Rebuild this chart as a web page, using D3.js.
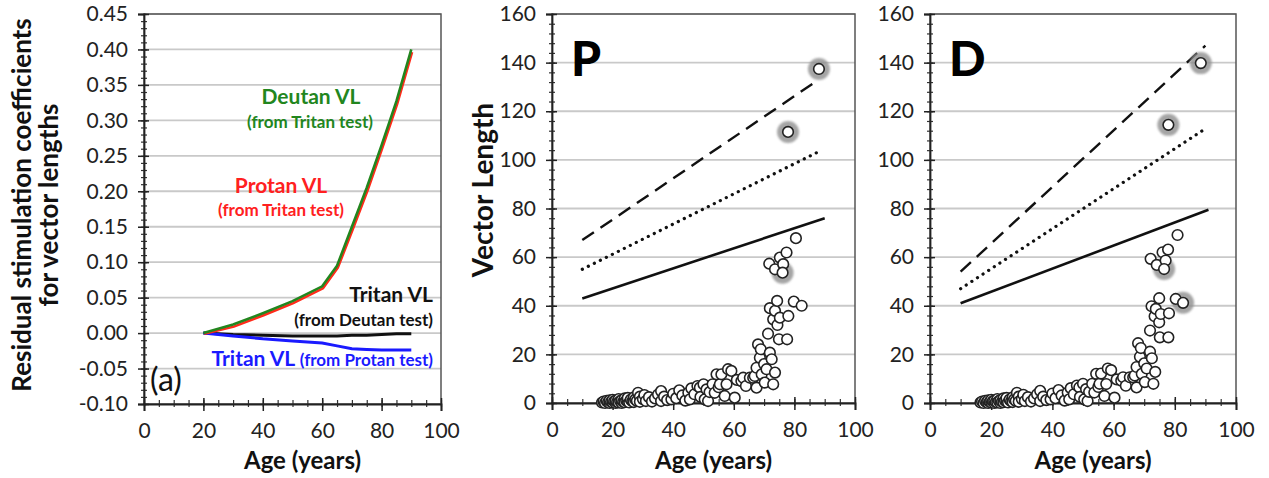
<!DOCTYPE html>
<html>
<head>
<meta charset="utf-8">
<script src="https://cdn.jsdelivr.net/npm/d3@7"></script>
<style>
  body { margin: 0; background: #fff; }
  svg { font-family: Lato, "Open Sans", sans-serif; }
</style>
</head>
<body>
<div id="wrapper"></div>
<script>
// panel (a): residual stimulation coefficients
const ageA = [20, 30, 40, 50, 60, 65, 70, 75, 80, 85, 90];
const deutanVL = [0, 0.012, 0.028, 0.045, 0.066, 0.095, 0.15, 0.205, 0.265, 0.327, 0.40];
const protanVL = [0, 0.010, 0.026, 0.043, 0.064, 0.093, 0.147, 0.202, 0.262, 0.324, 0.397];
const tritanFromDeutan = [0, -0.002, -0.003, -0.004, -0.004, -0.004, -0.003, -0.003, -0.002, -0.001, -0.001];
const tritanFromProtan = [0, -0.004, -0.008, -0.011, -0.014, -0.018, -0.022, -0.023, -0.024, -0.024, -0.024];
const yTicksA = [-0.10, -0.05, 0, 0.05, 0.10, 0.15, 0.20, 0.25, 0.30, 0.35, 0.40, 0.45];
const xTicks = [0, 20, 40, 60, 80, 100];
const yTicksVL = [0, 20, 40, 60, 80, 100, 120, 140, 160];

// panel P
const pAges = [16.5,17,17.5,18,18.5,19,19,19.5,20,20,20.5,21,21,21.5,22,22,22.5,23,23,23.5,24,24,24.5,25,25,25.5,26,26.5,27,27,27.5,28,28.4,29,29,30,30.5,31,32,33,34,
  35,36,36,37,38,39.4,40,41,42,43,44,45,45.5,46,47,48,48.8,49,50,50.4,51,51.5,52,53,53.7,54.3,55,55.4,55.9,57,57.6,58.1,59.2,60.3,61,62.5,63.1,64,65.3,66.4,
  66.9,67.5,67.5,68,68.6,68.9,69.2,70,70.2,70.8,71.3,71.9,71.9,72.5,73,73,73.6,73.6,74.3,74.4,74.9,75.2,77.6,78,79.8,82.4,
  71.7,73.6,75.2,77.4,76.3,76.1,80.5,77.9,88.1];
const pVL = [0.2,0.6,0,0.9,0.3,0,1.1,0.5,0.2,1.3,0.7,0,1,0.4,1.6,0.2,0.8,0,1.2,0.5,1.9,0.3,1,0.6,2.1,0.2,1.4,0.7,2.3,0.4,1.5,0.9,4.2,2.6,0.5,1.6,3.3,0.8,2.4,0.6,1.9,
  3.5,4.9,0.8,2.6,1.2,1.5,3.8,2,5.2,3.1,1,4.2,1.5,6,3.6,7,6.3,2.5,7.7,1.5,5.6,0.8,4.5,7.7,4.2,11.8,6.5,7.7,11.8,2.9,7.7,13.9,13.2,2.2,9.5,9,10.4,7,10.4,10.4,
  11.1,14.5,6.3,24.1,18.6,22.1,11.8,16,8.4,13.9,28.5,20.7,39,18,34.4,7.7,12.5,37.9,42,32.1,26.2,35.1,26.2,35.8,41.7,40,
  57.3,55,59.8,61.9,57.1,53.6,67.8,111.5,137.4];
const pHaloAge = [76.1, 77.9, 88.1];
const pHaloVL = [53.6, 111.5, 137.4];
const pDashAge = [10, 88], pDashVL = [67, 133];
const pDotAge = [10, 89], pDotVL = [55, 104];
const pSolidAge = [10, 90], pSolidVL = [43, 76];

// panel D
const dAges = [16.5,17,17.5,18,18.5,19,19,19.5,20,20,20.5,21,21,21.5,22,22,22.5,23,23,23.5,24,24,24.5,25,25,25.5,26,26.5,27,27,27.5,28,28.4,29,29,30,30.5,31,32,33,34,
  35,36,36,37,38,39.4,40,41,42,43,44,45,45.5,46,47,48,48.8,49,50,50.4,51,51.5,52,53,53.7,54.3,55,55.4,55.9,57,57.6,58.1,59.2,60.3,61,62.5,63.1,64,65.3,66.4,
  66.9,67.5,67.5,68,68.6,68.9,69.2,70,70.2,70.8,71.9,71.9,72.4,72.5,73.4,73,73.6,73.8,74.9,74.9,75.1,75.4,77.9,78.1,80.3,82.7,
  72.1,74.1,76,77.8,77,76.5,80.9,77.9,88.5];
const dVL = [0.2,0.6,0,0.9,0.3,0,1.1,0.5,0.2,1.3,0.7,0,1,0.4,1.6,0.2,0.8,0,1.2,0.5,1.9,0.3,1,0.6,2.1,0.2,1.4,0.7,2.3,0.4,1.5,0.9,4.2,2.6,0.5,1.6,3.4,0.8,2.4,0.6,1.9,
  3.6,5,0.8,2.6,1.2,1.5,3.9,2,5.3,3.1,1,4.3,1.5,6.1,3.6,7.2,6.4,2.5,7.9,1.5,5.7,0.8,4.6,7.9,4.3,12,6.6,7.9,12.1,2.9,7.8,14.2,13.5,2.2,9.7,9.2,10.6,7.1,10.6,10.6,
  11.3,14.8,6.4,24.6,19,22.6,12,16.3,8.6,14.2,29.8,21.1,39.8,18.4,35.7,7.9,12.8,38.7,43.1,33.2,27,36.6,27,36.9,42.8,41.2,
  59.3,56.8,62,63.1,58.6,55.1,69.1,114.4,139.8];
const dHaloAge = [76.5, 77.9, 88.5, 82.7];
const dHaloVL = [55.1, 114.4, 139.8, 41.2];
const dDashAge = [10, 90], dDashVL = [54, 147];
const dDotAge = [10, 89], dDotVL = [47, 112];
const dSolidAge = [10, 91], dSolidVL = [41, 79.5];

const width = 1269, height = 478;
const svg = d3.select("#wrapper").append("svg")
  .attr("width", width)
  .attr("height", height);

const defs = svg.append("defs");
defs.append("filter").attr("id", "blur").attr("x", "-50%").attr("y", "-50%").attr("width", "200%").attr("height", "200%")
  .append("feGaussianBlur").attr("stdDeviation", 1.1);

// excel style minus (plain hyphen)
const fmtA = d => d3.format(".2f")(d).replace("\u2212", "-");

function makePanel(cfg) {
  const x = d3.scaleLinear().domain([0, 100]).range([cfg.left, cfg.right]);
  const y = d3.scaleLinear().domain(cfg.yDomain).range([cfg.bottom, cfg.top]);
  const g = svg.append("g");

  // grid
  g.append("g").selectAll("line")
    .data(cfg.yTicks.slice(1))
    .enter().append("line")
    .attr("x1", cfg.left).attr("x2", cfg.right)
    .attr("y1", d => y(d)).attr("y2", d => y(d))
    .attr("stroke", "#c9c9c9").attr("stroke-width", 1.8);

  g.append("rect")
    .attr("x", cfg.left).attr("y", cfg.top)
    .attr("width", cfg.right - cfg.left).attr("height", cfg.bottom - cfg.top)
    .attr("fill", "none").attr("stroke", "#555").attr("stroke-width", 1.5);

  // minor ticks, crossing the axes
  const yMinor = d3.range(cfg.yDomain[0], cfg.yDomain[1] + cfg.yMinor / 2, cfg.yMinor);
  const yMin = g.append("g").attr("transform", `translate(${cfg.left},0)`)
    .call(d3.axisLeft(y).tickValues(yMinor).tickSize(3).tickFormat(""));
  yMin.selectAll(".tick line").attr("x1", 3).attr("stroke", "#333").attr("stroke-width", 1.2);
  yMin.select(".domain").remove();

  const xMinor = d3.range(0, 100.1, 5);
  const xMin = g.append("g").attr("transform", `translate(0,${cfg.bottom})`)
    .call(d3.axisBottom(x).tickValues(xMinor).tickSize(3).tickFormat(""));
  xMin.selectAll(".tick line").attr("y1", -4).attr("stroke", "#333").attr("stroke-width", 1.2);
  xMin.select(".domain").remove();

  // major axes
  const yAx = g.append("g").attr("transform", `translate(${cfg.left},0)`)
    .call(d3.axisLeft(y).tickValues(cfg.yTicks).tickSize(6).tickPadding(10).tickFormat(cfg.yFormat));
  yAx.selectAll(".tick line").attr("x1", 5).attr("stroke", "#222").attr("stroke-width", 1.5);
  yAx.select(".domain").attr("stroke", "#222").attr("stroke-width", 1.8);
  yAx.selectAll("text").attr("font-size", 21).attr("fill", "#222").attr("font-family", "Lato");

  const xAx = g.append("g").attr("transform", `translate(0,${cfg.bottom})`)
    .call(d3.axisBottom(x).tickValues(xTicks).tickSize(7).tickPadding(12));
  xAx.selectAll(".tick line").attr("y1", -6).attr("stroke", "#222").attr("stroke-width", 1.5);
  xAx.select(".domain").attr("stroke", "#222").attr("stroke-width", 1.8);
  xAx.selectAll("text").attr("font-size", 21).attr("fill", "#222").attr("font-family", "Lato");

  g.append("text")
    .attr("x", (cfg.left + cfg.right) / 2 + 10).attr("y", 469)
    .attr("text-anchor", "middle")
    .attr("font-size", 24).attr("font-weight", "bold").attr("fill", "#111")
    .text("Age (years)");

  return { x, y, g };
}

// ---------- panel (a)
const pa = makePanel({ left: 144, right: 441, top: 14, bottom: 404,
  yDomain: [-0.10, 0.45], yTicks: yTicksA, yMinor: 0.01, yFormat: fmtA });

const lineA = vals => d3.line().x((d, i) => pa.x(ageA[i])).y(d => pa.y(d))(vals);
pa.g.append("path").attr("d", lineA(tritanFromDeutan)).attr("fill", "none").attr("stroke", "#111").attr("stroke-width", 3);
pa.g.append("path").attr("d", lineA(tritanFromProtan)).attr("fill", "none").attr("stroke", "#1a1aff").attr("stroke-width", 3);
pa.g.append("path").attr("d", lineA(protanVL)).attr("transform", "translate(0.8,0.6)").attr("fill", "none").attr("stroke", "#ff2a1a").attr("stroke-width", 2.5);
pa.g.append("path").attr("d", lineA(deutanVL)).attr("fill", "none").attr("stroke", "#22861e").attr("stroke-width", 2.6);

function label(g, x, y, txt, size, color, anchor) {
  return g.append("text").attr("x", x).attr("y", y).attr("text-anchor", anchor || "middle")
    .attr("font-size", size).attr("font-weight", "bold").attr("fill", color).text(txt);
}
label(pa.g, 311, 104, "Deutan VL", 21, "#22861e");
label(pa.g, 310, 128, "(from Tritan test)", 17, "#22861e");
label(pa.g, 281, 193, "Protan VL", 21, "#ff2020");
label(pa.g, 281, 216, "(from Tritan test)", 17, "#ff2020");
label(pa.g, 433, 302, "Tritan VL", 21, "#111", "end");
label(pa.g, 433, 326, "(from Deutan test)", 17, "#111", "end");
const blueTxt = pa.g.append("text").attr("x", 433).attr("y", 366).attr("text-anchor", "end")
  .attr("font-weight", "bold").attr("fill", "#1a1aff");
blueTxt.append("tspan").attr("font-size", 21).text("Tritan VL ");
blueTxt.append("tspan").attr("font-size", 17).text("(from Protan test)");
pa.g.append("text").attr("x", 150).attr("y", 391).attr("font-size", 32).attr("fill", "#111").text("(a)");

const yTitleA = svg.append("text").attr("transform", "translate(31,205) rotate(-90)")
  .attr("text-anchor", "middle").attr("font-size", 26).attr("font-weight", "bold").attr("fill", "#111");
yTitleA.append("tspan").attr("x", 0).attr("dy", 0).text("Residual stimulation coefficients");
yTitleA.append("tspan").attr("x", 0).attr("dy", 27).text("for vector lengths");

// ---------- scatter panels
function scatterPanel(cfg) {
  const p = makePanel({ left: cfg.left, right: cfg.right, top: 14, bottom: 403,
    yDomain: [0, 160], yTicks: yTicksVL, yMinor: 4, yFormat: d3.format("d") });
  const fit = (ages, vals) => d3.line().x((d, i) => p.x(ages[i])).y(d => p.y(d))(vals);
  p.g.append("path").attr("d", fit(cfg.dash[0], cfg.dash[1])).attr("fill", "none")
    .attr("stroke", "#111").attr("stroke-width", 2.4).attr("stroke-dasharray", "14 8");
  p.g.append("path").attr("d", fit(cfg.dot[0], cfg.dot[1])).attr("fill", "none")
    .attr("stroke", "#111").attr("stroke-width", 3.2).attr("stroke-linecap", "round").attr("stroke-dasharray", "0.1 6.6");
  p.g.append("path").attr("d", fit(cfg.solid[0], cfg.solid[1])).attr("fill", "none")
    .attr("stroke", "#111").attr("stroke-width", 2.6);

  p.g.append("g").selectAll("circle").data(cfg.haloAge).enter().append("circle")
    .attr("cx", d => p.x(d)).attr("cy", (d, i) => p.y(cfg.haloVL[i]))
    .attr("r", 11).attr("fill", "#8f8f8f").attr("opacity", 0.8).attr("filter", "url(#blur)");

  p.g.append("g").selectAll("circle").data(cfg.ages).enter().append("circle")
    .attr("cx", d => p.x(d)).attr("cy", (d, i) => p.y(cfg.vl[i]))
    .attr("r", 5.3).attr("fill", "#fff").attr("stroke", "#222").attr("stroke-width", 1.6);

  p.g.append("text").attr("x", cfg.left + 19).attr("y", 76)
    .attr("font-size", 48).attr("font-weight", 900).attr("fill", "#000").text(cfg.letter);
  return p;
}

scatterPanel({ left: 552, right: 855, ages: pAges, vl: pVL, haloAge: pHaloAge, haloVL: pHaloVL,
  dash: [pDashAge, pDashVL], dot: [pDotAge, pDotVL], solid: [pSolidAge, pSolidVL], letter: "P" });
scatterPanel({ left: 930, right: 1236, ages: dAges, vl: dVL, haloAge: dHaloAge, haloVL: dHaloVL,
  dash: [dDashAge, dDashVL], dot: [dDotAge, dDotVL], solid: [dSolidAge, dSolidVL], letter: "D" });

svg.append("text").attr("transform", "translate(493,190) rotate(-90)")
  .attr("text-anchor", "middle").attr("font-size", 28).attr("font-weight", "bold").attr("fill", "#111")
  .text("Vector Length");
</script>
</body>
</html>
